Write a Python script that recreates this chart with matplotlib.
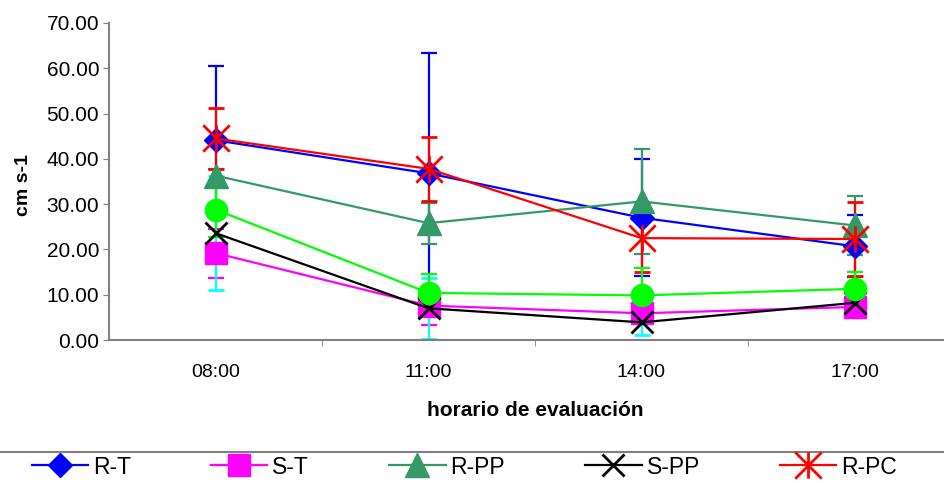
import matplotlib
matplotlib.use("Agg")
import matplotlib.pyplot as plt
from matplotlib.path import Path
from matplotlib.lines import Line2D

plt.rcParams['font.family'] = ['Liberation Sans', 'DejaVu Sans']

# evaluation times and mean values (cm s-1) with their error bars
hours = ['08:00', '11:00', '14:00', '17:00']

r_t = [44.1, 36.8, 27.0, 20.7]
r_t_err = [16.5, 26.5, 12.9, 6.8]
s_t = [19.2, 7.6, 5.9, 7.3]
s_t_err = [5.4, 4.2, 1.5, 1.5]
r_pp = [36.3, 25.8, 30.6, 25.3]
r_pp_err = [1.4, 4.5, 11.5, 6.5]
s_pp = [23.6, 7.0, 3.9, 8.2]
s_pp_err = [12.6, 6.7, 2.7, 1.5]
r_pc = [44.5, 37.8, 22.5, 22.3]
r_pc_err = [6.8, 7.1, 7.5, 8.1]
s_pc = [28.8, 10.4, 9.85, 11.3]
s_pc_err = [6.0, 4.1, 6.0, 3.7]

legend_names = ['R-T', 'S-T', 'R-PP', 'S-PP', 'R-PC']

# Excel-style asterisk: an X with a vertical stroke
star = Path([(-1, -1), (1, 1), (-1, 1), (1, -1), (0, -1), (0, 1)],
            [Path.MOVETO, Path.LINETO, Path.MOVETO, Path.LINETO, Path.MOVETO, Path.LINETO])

fig = plt.figure(figsize=(9.44, 4.83), dpi=100)
ax = fig.add_axes([109 / 944, 1 - 340 / 483, 852 / 944, 317 / 483])

x = list(range(len(hours)))
common = dict(lw=1.6, elinewidth=1.6, capsize=6, capthick=1.6)

series = [
    (r_t, r_t_err, '#0000FF', '#0000FF', dict(marker='D', ms=12)),
    (s_t, s_t_err, '#FF00FF', '#FF00FF', dict(marker='s', ms=16)),
    (r_pp, r_pp_err, '#339966', '#339966', dict(marker='^', ms=17)),
    (s_pp, s_pp_err, '#000000', '#00FFFF', dict(marker='x', ms=16, mew=2)),
    (r_pc, r_pc_err, '#FF0000', '#FF0000', dict(marker=star, ms=19, mew=2)),
    (s_pc, s_pc_err, '#00FF00', '#00FF00', dict(marker='o', ms=16)),
]

handles = []
for vals, errs, col, ecol, mk in series:
    ax.errorbar(x, vals, yerr=errs, color=col, ecolor=ecol, mfc=col, mec=col, **mk, **common)
    handles.append(Line2D([], [], color=col, lw=1.6, mfc=col, mec=col, **mk))

ax.set_xlim(-0.5, 3.5)
ax.set_ylim(0, 70)
ax.set_yticks(range(0, 71, 10))
ax.set_yticklabels([f'{v:.2f}' for v in range(0, 71, 10)], fontsize=15)
ax.set_xticks(x)
ax.set_xticklabels(hours, fontsize=14)
ax.set_xticks([0.5, 1.5, 2.5], minor=True)
ax.tick_params(axis='x', which='major', length=0, pad=17)
ax.tick_params(axis='x', which='minor', length=4.5, direction='out', color='#808080')
ax.tick_params(axis='y', length=4, direction='out', color='#808080', pad=3)

for side in ['top', 'right']:
    ax.spines[side].set_visible(False)
for side in ['left', 'bottom']:
    ax.spines[side].set_color('#808080')
    ax.spines[side].set_linewidth(1.5)

ax.set_ylabel('cm s-1', fontsize=14, fontweight='bold', va='center')
ax.yaxis.set_label_coords(-0.1, 0.49)
ax.set_xlabel('horario de evaluación', fontsize=15, fontweight='bold', labelpad=15)

# legend strip along the bottom edge
fig.add_artist(Line2D([0, 1], [1 - 452 / 483] * 2, color='#808080', lw=1.5))
fig.legend(handles[:5], legend_names, loc='center', bbox_to_anchor=(0.492, 1 - 467 / 483),
           ncol=5, frameon=False, fontsize=16.5, handlelength=2.45, handletextpad=0.22,
           columnspacing=3.5)

fig.savefig('out.png', dpi=100)
